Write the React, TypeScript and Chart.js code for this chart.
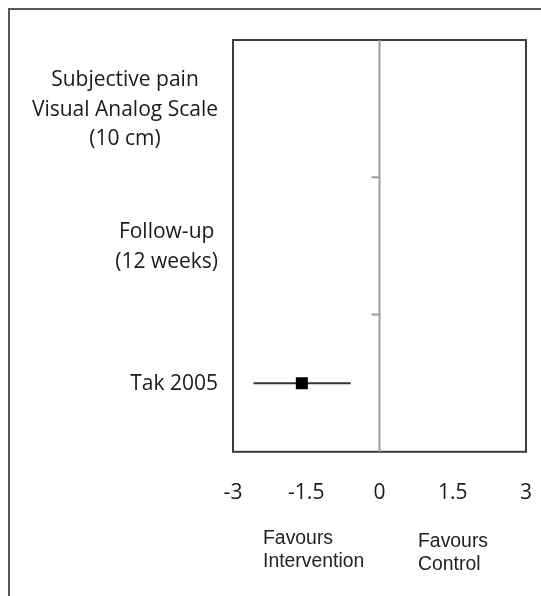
import React, { useEffect, useRef } from 'react';
import { Chart, registerables } from 'chart.js';

Chart.register(...registerables);

// ---- data ----
const rowLabels: string[][] = [
  ['Subjective pain', 'Visual Analog Scale', '(10 cm)'],
  ['Follow-up', '(12 weeks)'],
  ['Tak 2005'],
];
const studyRows = [2];
const studyEffects = [-1.59];
const studyLower = [-2.58];
const studyUpper = [-0.59];
const xTicks = [-3, -1.5, 0, 1.5, 3];
const favoursLeft = ['Favours', 'Intervention'];
const favoursRight = ['Favours', 'Control'];

const rowKeys = rowLabels.map((l) => l.join(' '));

const LABEL_FONT = '21px "Open Sans"';
const NOTE_FONT = '19.4px "Liberation Sans", Arial, sans-serif';

const forestPlugin = {
  id: 'forest',
  beforeDatasetsDraw(chart: any) {
    const { ctx, chartArea: a, scales } = chart;
    const x = scales.x;
    const y = scales.y;
    const line = (x1: number, y1: number, x2: number, y2: number) => {
      ctx.beginPath();
      ctx.moveTo(x1, y1);
      ctx.lineTo(x2, y2);
      ctx.stroke();
    };
    ctx.save();
    // frame
    ctx.strokeStyle = '#3c3c3c';
    ctx.lineWidth = 2;
    ctx.strokeRect(a.left, a.top, a.right - a.left, a.bottom - a.top);
    // zero line
    const x0 = x.getPixelForValue(0);
    ctx.strokeStyle = '#9a9a9a';
    ctx.lineWidth = 2;
    line(x0, a.top, x0, a.bottom);
    // row boundary ticks on zero line
    for (let i = 1; i < rowLabels.length; i++) {
      const yb = (y.getPixelForValue(i - 1) + y.getPixelForValue(i)) / 2;
      line(x0 - 8, yb, x0, yb);
    }
    // confidence intervals
    ctx.strokeStyle = '#333333';
    ctx.lineWidth = 2;
    studyRows.forEach((r, k) => {
      const yy = y.getPixelForValue(r);
      line(x.getPixelForValue(studyLower[k]), yy, x.getPixelForValue(studyUpper[k]), yy);
    });
    ctx.restore();
  },
  afterDraw(chart: any) {
    const { ctx, chartArea: a, scales } = chart;
    const y = scales.y;
    ctx.save();
    // row labels: block right-aligned, lines centered within block
    ctx.font = LABEL_FONT;
    ctx.fillStyle = '#1a1a1a';
    ctx.textAlign = 'center';
    ctx.textBaseline = 'middle';
    const right = a.left - 15;
    const lh = 29.5;
    rowLabels.forEach((lines, i) => {
      const w = Math.max(...lines.map((l) => ctx.measureText(l).width));
      const cx = right - w / 2;
      const cy = y.getPixelForValue(i) + 1;
      lines.forEach((l, j) => {
        ctx.fillText(l, cx, cy + (j - (lines.length - 1) / 2) * lh);
      });
    });
    // favours notes
    ctx.font = NOTE_FONT;
    ctx.textAlign = 'left';
    ctx.textBaseline = 'alphabetic';
    ctx.fillStyle = '#222222';
    favoursLeft.forEach((l, j) => ctx.fillText(l, a.left + 30, a.bottom + 92 + j * 23));
    favoursRight.forEach((l, j) => ctx.fillText(l, a.left + 185, a.bottom + 95 + j * 23));
    ctx.restore();
  },
};

export default function App() {
  const ref = useRef<HTMLCanvasElement>(null);
  useEffect(() => {
    if (!ref.current) return;
    const chart = new Chart(ref.current, {
      type: 'scatter',
      data: {
        datasets: [
          {
            data: studyRows.map((r, k) => ({ x: studyEffects[k], y: rowKeys[r] })),
            pointStyle: 'rect',
            pointRadius: 8.5,
            pointHoverRadius: 8.5,
            backgroundColor: '#000000',
            borderColor: '#000000',
            borderWidth: 0,
          },
        ],
      },
      options: {
        animation: false,
        responsive: false,
        devicePixelRatio: 1,
        layout: { padding: { left: 223, top: 30, right: 15, bottom: 90 } },
        plugins: { legend: { display: false }, tooltip: { enabled: false } },
        scales: {
          x: {
            type: 'linear',
            min: -3,
            max: 3,
            afterBuildTicks: (s: any) => {
              s.ticks = xTicks.map((v) => ({ value: v }));
            },
            grid: {
              display: true,
              drawOnChartArea: false,
              drawTicks: true,
              tickLength: 29,
              color: 'rgba(0,0,0,0)',
            },
            border: { display: false },
            ticks: {
              padding: 0,
              color: '#1a1a1a',
              font: { family: 'Open Sans', size: 21 },
              maxRotation: 0,
              autoSkip: false,
              callback: (v: any) => String(v),
            },
          },
          y: {
            type: 'category',
            labels: rowKeys,
            offset: true,
            display: false,
          },
        },
      },
      plugins: [forestPlugin],
    } as any);
    return () => chart.destroy();
  }, []);
  return (
    <div
      style={{
        position: 'fixed',
        left: 8,
        top: 8,
        width: 533,
        height: 588,
        borderLeft: '2px solid #575757',
        borderTop: '2px solid #575757',
        boxSizing: 'border-box',
        background: '#fff',
        overflow: 'hidden',
      }}
    >
      <canvas ref={ref} width={531} height={586} style={{ display: 'block' }} />
    </div>
  );
}
